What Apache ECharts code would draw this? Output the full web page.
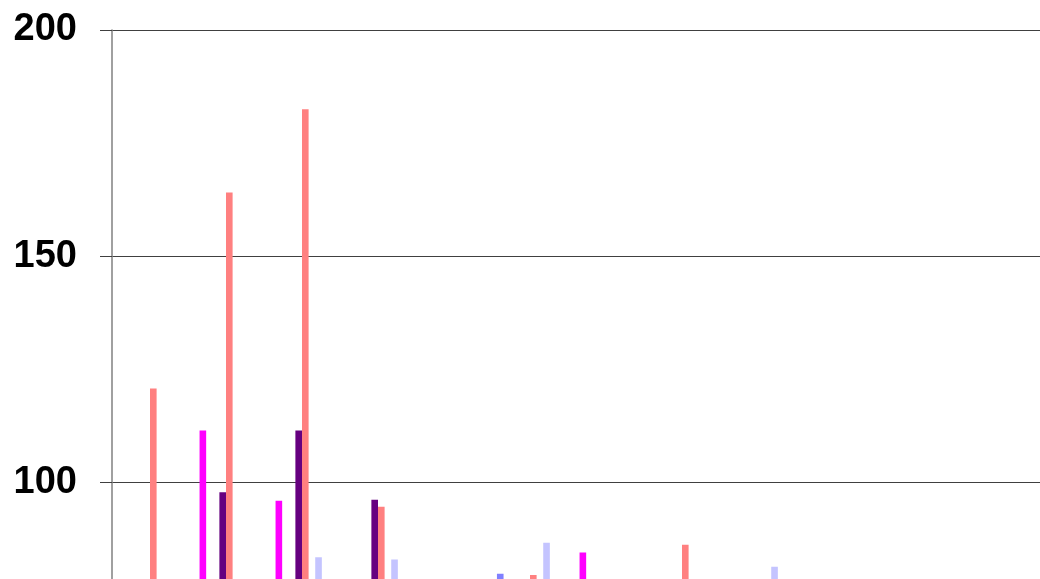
<!DOCTYPE html>
<html>
<head>
<meta charset="utf-8">
<script src="https://cdn.jsdelivr.net/npm/echarts@6/dist/echarts.min.js"></script>
<style>
  html, body { margin: 0; padding: 0; background: #fff; overflow: hidden; }
  /* the chart runs past the window on the right and bottom, like the cropped original */
  #chart { width: 1100px; height: 709px; }
</style>
</head>
<body>
<div id="chart"></div>
<script>
// categories (x axis is not visible in the picture)
var categories = ['1', '2', '3', '4', '5', '6', '7', '8', '9', '10', '11', '12', '13'];
var yTicks = [100, 150, 200];

// ten series side by side, only five reach above the visible floor
var s0Blue     = [null, null, null, null, null, 79.9, null, null, null, null, null, null, null];
var s1Magenta  = [null, 111.5, 96.0, null, null, null, 84.6, null, null, null, null, null, null];
var s2         = [null, null, null, null, null, null, null, null, null, null, null, null, null];
var s3         = [null, null, null, null, null, null, null, null, null, null, null, null, null];
var s4Purple   = [null, 97.9, 111.5, 96.2, null, null, null, null, null, null, null, null, null];
var s5Salmon   = [120.8, 164.1, 182.5, 94.7, null, 79.6, null, 86.3, null, null, null, null, null];
var s6         = [null, null, null, null, null, null, null, null, null, null, null, null, null];
var s7Lavender = [null, null, 83.5, 83.0, null, 86.7, null, null, 81.4, null, null, null, null];
var s8         = [null, null, null, null, null, null, null, null, null, null, null, null, null];
var s9         = [null, null, null, null, null, null, null, null, null, null, null, null, null];

var seriesData = [s0Blue, s1Magenta, s2, s3, s4Purple, s5Salmon, s6, s7Lavender, s8, s9];
var seriesColors = ['#8080FF', '#FF00FF', '#FFFFCC', '#CCFFFF', '#660080', '#FF8080', '#0066CC', '#C4C4FF', '#000080', '#00FFFF'];

var chart = echarts.init(document.getElementById('chart'));

var series = seriesData.map(function (d, i) {
  return {
    type: 'bar',
    data: d,
    barGap: '0%',
    barCategoryGap: '13%',
    itemStyle: { color: seriesColors[i] },
    silent: true,
    animation: false
  };
});

chart.setOption({
  animation: false,
  grid: { left: 112, right: 0, top: 30, bottom: 0 },
  xAxis: {
    type: 'category',
    data: categories,
    show: false
  },
  yAxis: {
    type: 'value',
    min: 50,
    max: 200,
    interval: 50,
    axisLine: { show: true, lineStyle: { color: '#808080', width: 1.5 } },
    axisTick: { show: true, length: 12, lineStyle: { color: '#404040' } },
    splitLine: { show: true, lineStyle: { color: '#404040', width: 1 } },
    axisLabel: {
      margin: 35,
      fontFamily: 'Liberation Sans, Arial, sans-serif',
      fontWeight: 'bold',
      fontSize: 38,
      color: '#000',
      formatter: function (v) { return yTicks.indexOf(v) >= 0 ? String(v) : ''; }
    }
  },
  series: series
});
</script>
</body>
</html>
